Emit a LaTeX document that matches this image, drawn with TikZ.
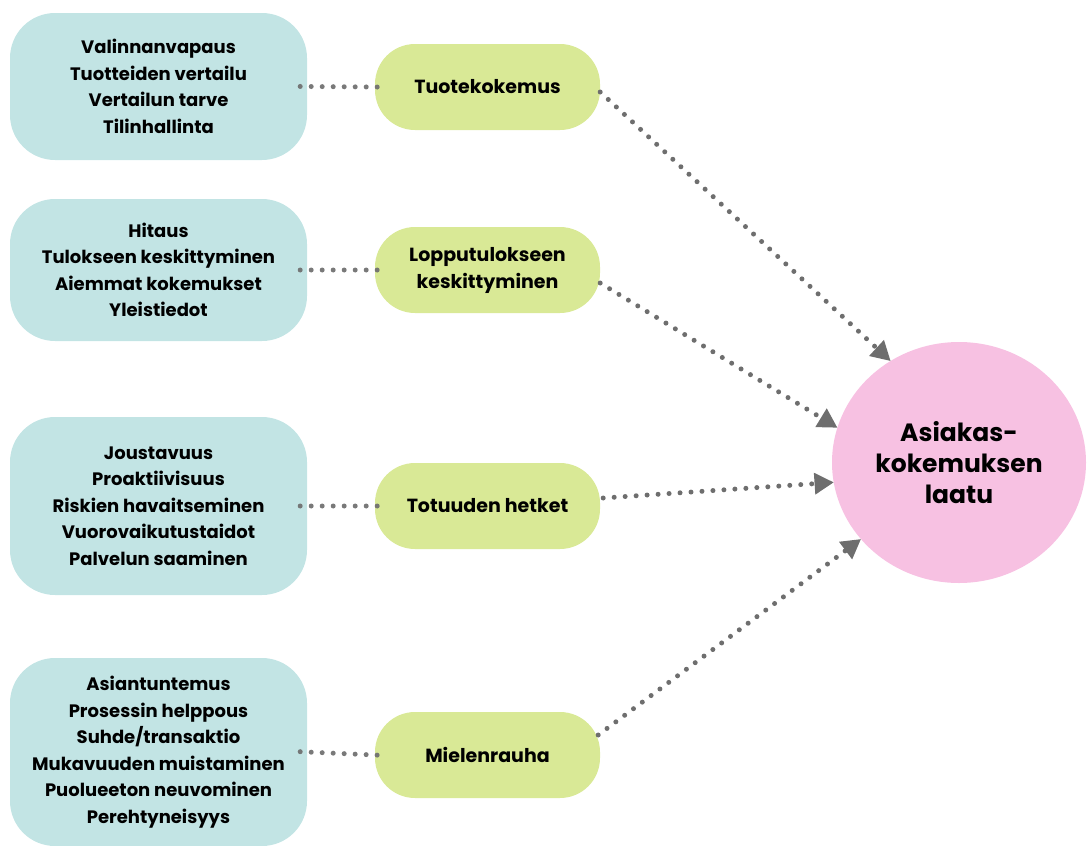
\documentclass[tikz,border=0pt]{standalone}
\usepackage{fontspec}
\setmainfont{Poppins}
\usetikzlibrary{arrows.meta,shapes.geometric,calc}
\definecolor{factorfill}{HTML}{C2E4E4}
\definecolor{themefill}{HTML}{D9E996}
\definecolor{goalfill}{HTML}{F7C1E2}
\definecolor{dotgray}{HTML}{6E6E6E}
\tikzset{
  factor/.style={fill=factorfill, rounded corners=45pt, minimum width=297pt,
    align=center, inner sep=0pt, font=\bfseries\fontsize{18}{26.5}\selectfont},
  theme/.style={fill=themefill, rounded corners=40pt, minimum width=225pt,
    minimum height=86pt, align=center, inner sep=0pt,
    font=\bfseries\fontsize{19}{27}\selectfont},
  goal/.style={ellipse, fill=goalfill, minimum width=254pt, minimum height=241pt,
    align=center, inner sep=0pt, font=\bfseries\fontsize{25}{31}\selectfont},
  dotline/.style={draw=dotgray, opacity=0.92, line width=5pt, line cap=round,
    dash pattern=on 0pt off 11pt},
  dotarrow/.style={dotline, opacity=1,
    -{Triangle[length=19pt,width=22pt,line width=0pt]}},
}
\begin{document}
\begin{tikzpicture}[x=1pt,y=-1pt]
\useasboundingbox (0,0) rectangle (1087,846);

% left column: contributing factors
\node[factor, minimum height=147pt] (b1) at (158.5,86.5)
  {Valinnanvapaus\\Tuotteiden vertailu\\Vertailun tarve\\Tilinhallinta};
\node[factor, minimum height=142pt] (b2) at (158.5,270)
  {Hitaus\\Tulokseen keskittyminen\\Aiemmat kokemukset\\Yleistiedot};
\node[factor, minimum height=178pt] (b3) at (158.5,506)
  {Joustavuus\\Proaktiivisuus\\Riskien havaitseminen\\Vuorovaikutustaidot\\Palvelun saaminen};
\node[factor, minimum height=188pt] (b4) at (158.5,752)
  {Asiantuntemus\\Prosessin helppous\\Suhde/transaktio\\Mukavuuden muistaminen\\Puolueeton neuvominen\\Perehtyneisyys};

% middle column: experience themes
\node[theme] (g1) at (487.5,87) {Tuotekokemus};
\node[theme] (g2) at (487.5,270) {Lopputulokseen\\keskittyminen};
\node[theme] (g3) at (487.5,506) {Totuuden hetket};
\node[theme] (g4) at (487.5,755) {Mielenrauha};

% result
\node[goal] (c) at (959,462.5) {Asiakas-\\kokemuksen\\laatu};

% factor -> theme links
\foreach \i in {1,...,4}
  \draw[dotline, shorten <=-7pt, shorten >=-6pt] (b\i.east) -- (g\i.west);

% theme -> result arrows
\draw[dotarrow] ($(g1.east)+(0,5)$) -- (c.124);
\draw[dotarrow] ($(g2.east)+(0,13)$) -- (c.164);
\draw[dotarrow] ($(g3.east)+(3,-8)$) -- (c.189);
\draw[dotarrow] ($(g4.east)+(-2,-20)$) -- (c.218);
\end{tikzpicture}
\end{document}
